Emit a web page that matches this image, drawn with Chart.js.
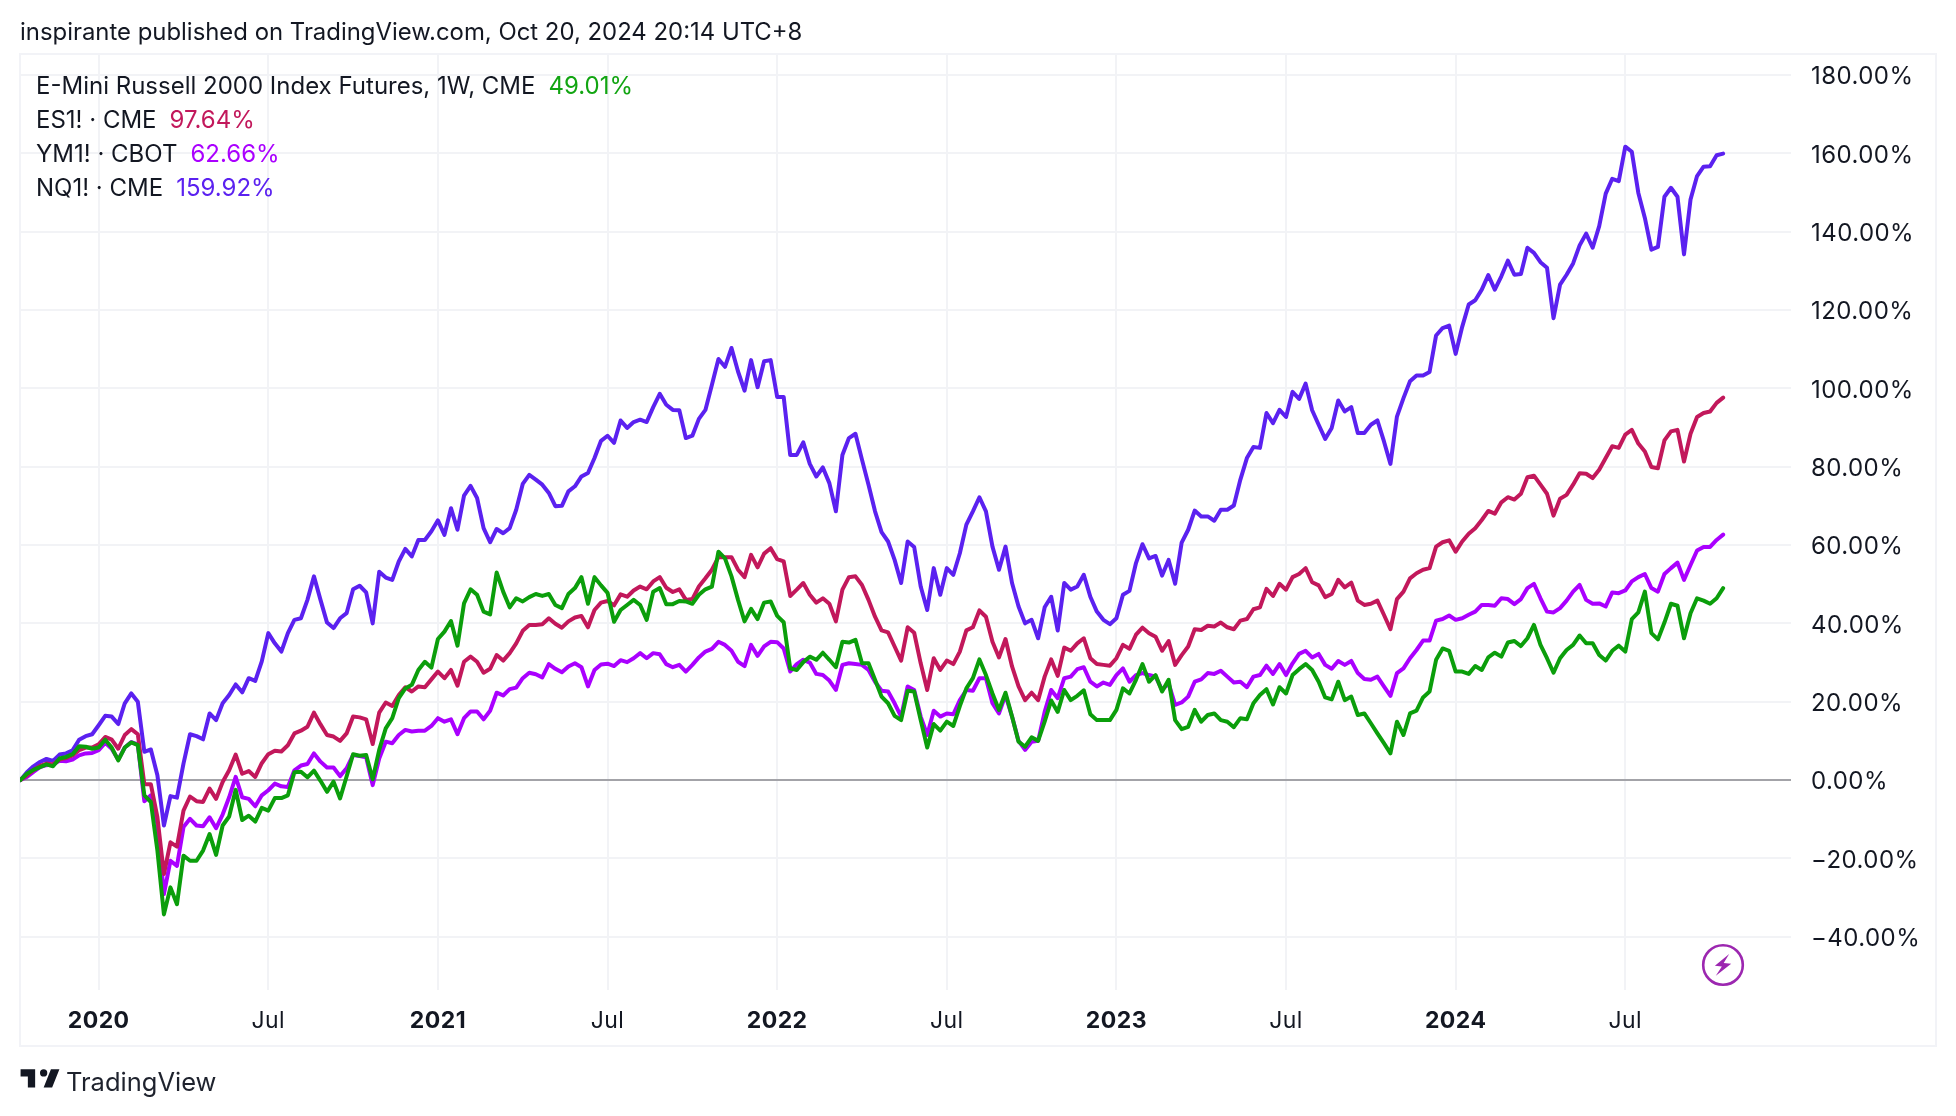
<!DOCTYPE html>
<html>
<head>
<meta charset="utf-8">
<script src="https://cdn.jsdelivr.net/npm/chart.js@4"></script>
<style>
html,body{margin:0;padding:0;background:#fff;width:1956px;height:1116px;overflow:hidden;font-family:Inter,"Liberation Sans",sans-serif;color:#131722}
#box{position:absolute;left:19px;top:53px;width:1914px;height:990px;border:2px solid #f2f3f7;box-sizing:content-box}
#c{position:absolute;left:0;top:0}
#title{position:absolute;left:20px;top:17px;font-size:23.9px;line-height:30px;white-space:nowrap;color:#131722}
.leg{position:absolute;left:36px;font-size:24px;line-height:30px;white-space:nowrap}
.leg span{margin-left:13px}
#logoText{position:absolute;left:66px;top:1066px;font-size:25.5px;line-height:32px;color:#1e222d}
#logo{position:absolute;left:18px;top:1062px}
#flash{position:absolute;left:1701px;top:943px}
</style>
</head>
<body>
<div id="box"></div>
<canvas id="c" width="1956" height="1116" style="width:1956px;height:1116px"></canvas>
<div id="title">inspirante published on TradingView.com, Oct 20, 2024 20:14 UTC+8</div>
<div id="legend"></div>
<svg id="logo" width="44" height="34" viewBox="0 0 36 28"><path fill="#131722" d="M14 6H2v6h6v9h6V6Zm14 15h-7l6-15h7l-6 15Zm-7-9a3 3 0 1 0 0-6 3 3 0 0 0 0 6Z"/></svg>
<div id="logoText">TradingView</div>
<svg id="flash" width="44" height="44" viewBox="0 0 44 44"><circle cx="22" cy="22" r="19.8" fill="#fff" stroke="#9c27b0" stroke-width="2.6"/><path fill="#9c27b0" d="M27 10.5 14 23.5h7l-5 10 14-13.5h-7.5z" transform="rotate(6 22 22)"/></svg>
<script>
const nq = [0,2.0,3.5,4.6,5.4,4.9,6.5,6.8,7.6,10.3,
11.2,11.7,14.0,16.4,16.2,14.3,19.6,22.1,20.0,7.2,
7.8,1.2,-11.6,-4.1,-4.5,4.2,11.7,11.2,10.4,17.0,
15.3,19.6,21.7,24.4,22.4,26.0,25.3,30.3,37.5,34.9,
32.8,37.5,40.9,41.3,46,52,46,40.2,38.8,41.3,
42.6,48.7,49.6,47.9,40,53.2,51.7,51.1,55.8,59,
57.1,61.3,61.3,63.5,66.3,62.6,69.4,63.9,72.6,75.1,
72,64.3,60.7,64.1,63,64.3,69,75.6,77.9,76.7,
75.4,73.3,69.9,70,73.7,75,77.5,78.4,82.2,86.6,
87.9,86.1,91.8,89.9,91.4,92,91.4,95.2,98.6,95.8,
94.5,94.4,87.3,87.9,92.2,94.5,100.9,107.5,105.5,110.3,
104.3,99.4,107.2,100.3,106.9,107.2,97.8,97.8,83,83,
86.2,80.7,77.5,79.8,75.8,68.6,83,87.3,88.4,81.8,
75.4,68.6,63.3,60.9,56.2,50.3,60.9,59.5,49.4,43.4,
54.1,47.3,54.1,52.4,57.9,65.2,68.6,72.2,68.6,59.6,
53.7,59.6,50.3,44.3,40,40.9,36.2,44.1,46.8,38.2,
50.3,48.6,49.4,52.4,46.8,43,40.9,39.8,41.3,47.3,
48.3,55.4,60.2,56.6,57.2,52.2,56.2,50.1,60.6,63.9,
68.8,67.3,67.3,66.2,69,69,70.1,76.7,82.2,85,
84.8,93.7,91.1,94.5,92.7,99.1,97.3,101.2,94.4,90.7,
87.1,89.9,96.9,94.1,95.2,88.6,88.6,90.7,91.8,86.5,
80.7,92.8,97.5,101.8,103.3,103.3,104.2,113.5,115.4,116,
108.8,115.7,121.4,122.5,125.2,128.9,125.2,128.6,132.6,129,
129.2,135.9,134.6,132.2,130.8,117.9,126.5,129,131.9,136.5,
139.5,135.9,141.4,149.7,153.5,152.9,161.7,160.4,149.9,143.5,
135.4,136.1,148.9,151.2,148.9,134.2,148.2,154.2,156.6,156.7,
159.5,159.92];
const es = [0,1.2,2.5,3.6,4.2,4.0,5.2,5.6,6.3,7.6,
8.3,8.3,9.1,11,10.3,8.0,11.5,13,11.7,-1.1,
-1.1,-9.5,-24,-15.9,-17,-7.8,-4.2,-5.4,-5.6,-2.2,
-4.8,-0.5,2.5,6.5,1.6,2.3,0.8,4.3,6.6,7.5,
7.3,8.9,11.9,12.6,13.6,17.2,14.2,11.5,11.1,10,
11.9,16.2,16,15.5,9.2,17.2,19.8,18.9,21.7,23.7,
22.6,23.9,23.7,25.7,27.7,26,28.1,24.1,30.2,31.5,
30.2,27.4,28.4,31.9,30.5,32.4,34.9,38.1,39.6,39.6,
39.8,41.3,39.9,38.9,40.5,41.5,41.9,39,43.4,45.3,
45.7,44.6,47.4,46.8,48.4,49.4,48.7,50.7,51.8,49.1,
48,48.7,46,46.2,49.4,51.5,53.7,56.9,56.9,56.9,
53.7,51.8,57.5,54.3,57.8,59.2,56.4,55.8,47,48.6,
50.3,47.3,45.3,46.4,45,40.5,48.6,51.8,52,49.8,
46,41.7,38.2,37.7,34.1,30.5,39,37.6,29.8,23,
31.1,28.1,30.5,29.6,32.8,38.2,39,43.3,41.7,35.3,
31.3,36,29,23.9,20.4,22.3,20.4,26.4,30.8,26.6,
33.8,33,34.9,36.2,31.1,29.6,29.4,29.2,31.1,34.5,
33.5,37.1,38.9,37.5,36.6,33,35.5,29.4,31.9,34.1,
38.5,38.3,39.4,39.2,40.2,39,38.5,40.7,41.1,43.6,
44.1,48.8,47,50.1,48.6,51.8,52.6,54.1,50.5,49.7,
46.7,47.5,51.1,49.2,50.4,45.8,44.7,45,45.8,42.2,
38.5,46.2,48.1,51.5,52.8,53.7,54.1,59.6,60.7,61.2,
58.3,60.9,62.9,64.3,66.4,68.7,68,70.9,72.2,71.6,
73.1,77.3,77.7,75.4,73.1,67.5,71.8,72.8,75.4,78.3,
78.2,77.1,79.2,82.2,85.2,84.8,88.2,89.4,85.9,83.9,
79.9,79.6,86.7,89,89.4,81.3,88.4,92.7,93.7,94.1,
96.3,97.64];
const ym = [0,0.8,2.1,3.3,3.8,4.0,4.9,4.8,5.2,6.3,
6.8,6.9,7.6,9.5,8,5.2,8.3,9.7,9.1,-5.4,
-3.9,-11.2,-29.1,-20.6,-21.9,-12,-9.9,-11.6,-11.8,-9.5,
-12.3,-8.8,-4.4,0.8,-4.4,-4.8,-6.7,-3.9,-2.6,-0.9,
-1.6,-1.8,2.5,3.7,4.1,6.8,4.7,3.2,3.2,1,
3,6.4,6.1,5.8,-1.3,5.5,9.8,9.4,11.5,12.8,
12.4,12.6,12.6,13.8,15.8,14.9,15.5,11.7,15.8,17.5,
17.5,15.5,17.7,22.3,21.6,23.2,23.6,26,27.4,27,
26.2,29.6,28.4,27.5,29,29.8,28.8,23.9,28.1,29.5,
29.7,29.1,30.6,30.1,31.1,32.4,31.1,32.4,32.1,29.6,
28.8,29.4,27.7,29.4,31.3,32.8,33.5,35.3,34.5,33,
30.2,29.1,34.5,31.7,34.1,35.3,35.2,33.6,27.7,29.6,
30.7,30,27.1,26.8,25.4,23,29.4,29.8,29.6,29.4,
28.1,25.1,22.8,22.6,19.6,16.2,23.9,23,16.2,11.5,
17.7,16.2,17,16.8,20.4,23,22.8,26,26,19.6,
17,21.7,16.2,10,7.7,9.8,10,17.4,23,20.9,
26,26.4,28.3,28.8,25.1,23.9,24.9,24.3,26.8,28.5,
25.1,26.8,27.3,26.8,26.4,23,24.7,19.2,19.8,21.3,
25.1,25.7,27.3,27.1,27.9,26.4,24.9,25.1,23.7,26.4,
26.8,29.2,27.1,29.6,26.8,29.8,32.2,33,31.3,32.2,
29.4,28.4,30.4,29.4,30.4,27.3,25.8,25.6,26.4,23.9,
21.5,27.3,28.5,31.1,33.2,35.6,35.6,40.7,41.1,42,
40.9,41.3,42.2,43,44.7,44.7,44.5,46.4,46.2,44.9,
46.2,49,50.1,46.4,43,42.8,43.9,45.8,48.1,49.8,
46,45,45.1,44.3,47.9,47.7,48.4,50.7,51.8,52.6,
49,48.1,52.6,54.1,55.5,51.1,54.9,58.6,59.5,59.5,
61.3,62.66];
const rty = [0,1.6,2.6,3.3,4,3.5,5.5,5.9,6.6,8.6,
8.5,8,8.3,10.3,8.3,5,8.3,9.6,8.9,-3.9,
-5.6,-18,-34.3,-27.4,-31.7,-19.3,-20.6,-20.6,-18,-13.8,
-19.1,-11.6,-9.3,-2.5,-10.2,-9.1,-10.6,-7.1,-7.8,-4.6,
-4.6,-3.9,2,2.1,0.7,2.4,-0.2,-3,-0.4,-4.7,
0.9,6.6,6.2,6.4,0.2,7.7,13.2,15.8,20.9,23.4,
24.3,28.1,30.2,28.7,36,37.9,40.6,34.3,45.1,48.7,
47.3,43,42.3,53,48.1,44.1,46.4,45.6,46.7,47.5,
47,47.5,44.7,43.9,47.5,49,51.8,45,51.8,49.7,
47.8,40.4,43.4,44.7,46,44.7,40.9,48.1,49,44.9,
44.9,45.7,45.6,45,47.3,48.7,49.4,58.3,56.6,52,
46,40.5,43.7,41.1,45.3,45.6,41.9,40.3,28.5,28.1,
30.1,31.5,30.7,32.5,30.7,28.8,35.3,35.1,35.8,29.8,
29.8,25.6,21.3,19.6,16.4,15.3,22.8,22.6,15.3,8.3,
14.3,12.6,14.9,13.8,18.9,23.4,26,30.8,26.8,22.1,
17.9,22.3,16.2,9.8,8.5,10.9,10,14.9,20.3,17.4,
23,20.4,21.5,22.9,16.8,15.3,15.3,15.3,17.9,23.4,
22.1,25.6,29.6,25.1,26.8,22.6,25.6,15.3,13,13.6,
17.9,14.9,16.6,17,15.3,14.9,13.5,15.8,15.5,19.6,
21.7,23.2,19.3,23.7,22.1,26.8,28.3,29.6,28.1,25.1,
21.1,20.6,25.1,20.4,21.3,16.6,17,14.5,11.9,9.4,
6.8,14.9,11.5,17,17.7,21.1,22.6,30.7,33.6,33,
27.7,27.7,27.1,29.1,28.1,31.3,32.5,31.5,35.1,35.5,
34.2,36.2,39.6,34.5,31.1,27.4,31.1,33.2,34.5,36.9,
34.9,34.9,31.9,30.5,33,34.3,32.8,41.1,42.8,48.1,
37.5,35.9,40.2,45,44.5,36.2,42.6,46.4,45.8,45,
46.4,49.01];

const xTickWeeks = [12,38,64,90,116,142,168,194,220,246];
const xTickLabels = ["2020","Jul","2021","Jul","2022","Jul","2023","Jul","2024","Jul"];
const yTickValues = [-40,-20,0,20,40,60,80,100,120,140,160,180];

const legendNames = ["E-Mini Russell 2000 Index Futures, 1W, CME","ES1! · CME","YM1! · CBOT","NQ1! · CME"];
const legendValues = ["49.01%","97.64%","62.66%","159.92%"];
const legendColors = ["#12a512","#c2185b","#aa00ff","#5b21f0"];
const legendTops = [71,105,139,173];

const legendEl = document.getElementById("legend");
legendNames.forEach((name,i)=>{
  const d=document.createElement("div");
  d.className="leg";
  d.style.top=legendTops[i]+"px";
  d.textContent=name;
  const s=document.createElement("span");
  s.style.color=legendColors[i];
  s.textContent=legendValues[i];
  d.appendChild(s);
  legendEl.appendChild(d);
});

const toPts = a => a.map((v,i)=>({x:i,y:v}));
const lineStyle = {borderWidth:4,pointRadius:0,tension:0,borderJoinStyle:"round",borderCapStyle:"round",fill:false};
const fontFam = 'Inter, "Liberation Sans", sans-serif';
const spacing = {id:"spacing",beforeDraw(chart){chart.ctx.letterSpacing="0.45px";}};

new Chart(document.getElementById("c"),{
  type:"line",
  data:{datasets:[
    {label:"RTY",data:toPts(rty),borderColor:"#0b9e0b",...lineStyle},
    {label:"ES1!",data:toPts(es),borderColor:"#c2185b",...lineStyle},
    {label:"YM1!",data:toPts(ym),borderColor:"#aa00ff",...lineStyle},
    {label:"NQ1!",data:toPts(nq),borderColor:"#5b21f0",...lineStyle}
  ]},
  plugins:[spacing],
  options:{
    responsive:false,animation:false,devicePixelRatio:1,
    parsing:false,normalized:true,
    layout:{padding:{left:20,top:55,right:20,bottom:71}},
    plugins:{legend:{display:false},tooltip:{enabled:false},title:{display:false}},
    scales:{
      x:{
        type:"linear",min:-0.06,max:271.4,
        afterFit(s){s.height=55;},
        afterBuildTicks(s){s.ticks=xTickWeeks.map(v=>({value:v}));},
        border:{display:false},
        grid:{color:"#f2f3f6",lineWidth:2,drawTicks:false},
        ticks:{
          autoSkip:false,maxRotation:0,minRotation:0,padding:17,color:"#131722",
          font:c=>({family:fontFam,size:23,weight:(c.index%2===0)?"700":"400"}),
          callback:(v,i)=>xTickLabels[i]
        }
      },
      y:{
        type:"linear",position:"right",min:-53.6,max:185.1,
        afterFit(s){s.width=145;},
        afterBuildTicks(s){s.ticks=yTickValues.map(v=>({value:v}));},
        border:{display:false},
        grid:{
          color:c=>c.tick&&c.tick.value===0?"#a3a3a8":"#f2f3f6",
          lineWidth:2,drawTicks:false
        },
        ticks:{
          autoSkip:false,padding:20,labelOffset:2,color:"#131722",
          font:{family:fontFam,size:24},
          callback:v=>(v<0?"\u2212"+Math.abs(v):v).toString()+".00%"
        }
      }
    }
  }
});
</script>
</body>
</html>
